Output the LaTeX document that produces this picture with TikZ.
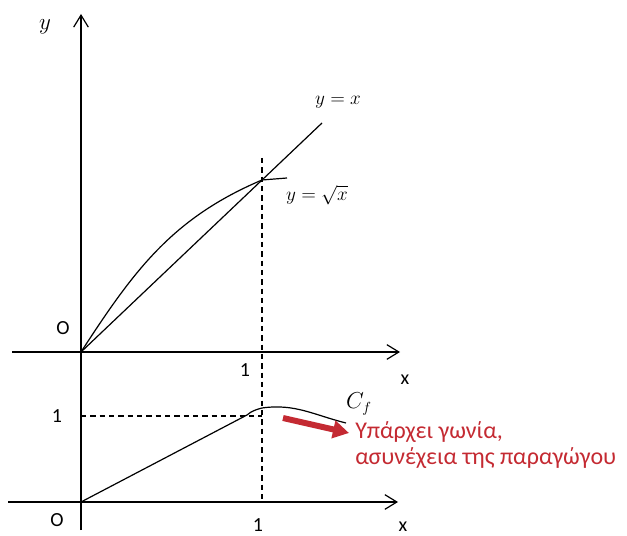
\documentclass[tikz,border=0pt]{standalone}
\usepackage{fontspec}
\setmainfont{Carlito}
\usepackage{tikz}
\usetikzlibrary{arrows.meta}
\usepackage{xcolor}
\definecolor{notered}{RGB}{196,42,50}

\begin{document}
\begin{tikzpicture}[
  x=0.75pt, y=0.75pt,
  axis/.style={line width=0.9pt, -{Straight Barb[length=9pt,width=11pt]}},
  graph/.style={line width=0.9pt},
  guide/.style={line width=0.9pt, dash pattern=on 4pt off 3pt},
  lbl/.style={inner sep=0pt, font=\fontsize{15}{17}\selectfont},
  mlbl/.style={inner sep=0pt, font=\fontsize{14}{16}\selectfont},
  note/.style={inner sep=0pt, align=left, text=notered, font=\fontsize{18}{19.5}\selectfont}
]
\useasboundingbox (0,0) rectangle (627,535);

\coordinate (O1) at (81,183);
\coordinate (O2) at (81,33);
\coordinate (P1) at (262,355);
\coordinate (Q1) at (262,119);

\draw[axis] (12,183) -- (400,183);
\draw[axis] (8,33) -- (398,33);
\draw[axis] (81,5) -- (81,521);

\draw[graph] (O1) -- (322,412);
\draw[graph] (O1) to[out=57,in=203] (P1) -- (287,357);
\draw[guide] (262,377) -- (262,33);
\draw[guide] (81,119) -- (Q1);
\draw[graph] (O2) -- (247,120) to[out=40,in=195] (262,127) to[out=8,in=166] (346,112);

\node[mlbl, font=\fontsize{16}{18}\selectfont] (ylab) at (45,508) {$y$};
\node[mlbl] (yx) at (338,433) {$y = x$};
\node[mlbl] (ysqrt) at (317,340) {$y = \sqrt{x}$};
\node[mlbl, font=\fontsize{16}{18}\selectfont] (cf) at (359,131) {$C_f$};
\node[lbl] (o1) at (63,207) {O};
\node[lbl] (o2) at (57,15) {O};
\node[lbl] (one1) at (245,165) {1};
\node[lbl] (one2) at (258,10) {1};
\node[lbl] (one3) at (57,119) {1};
\node[lbl] (x1) at (405,155) {x};
\node[lbl] (x2) at (403,8) {x};
\node[note, anchor=west] (corner) at (355,90) {Υπάρχει γωνία,\\ασυνέχεια της παραγώγου};

\coordinate (tail) at (283,117);
\coordinate (tip) at (349,102);
\draw[notered, line width=4.5pt, -{Triangle[length=12pt,width=13pt]}] (tail) -- (tip);
\end{tikzpicture}
\end{document}
